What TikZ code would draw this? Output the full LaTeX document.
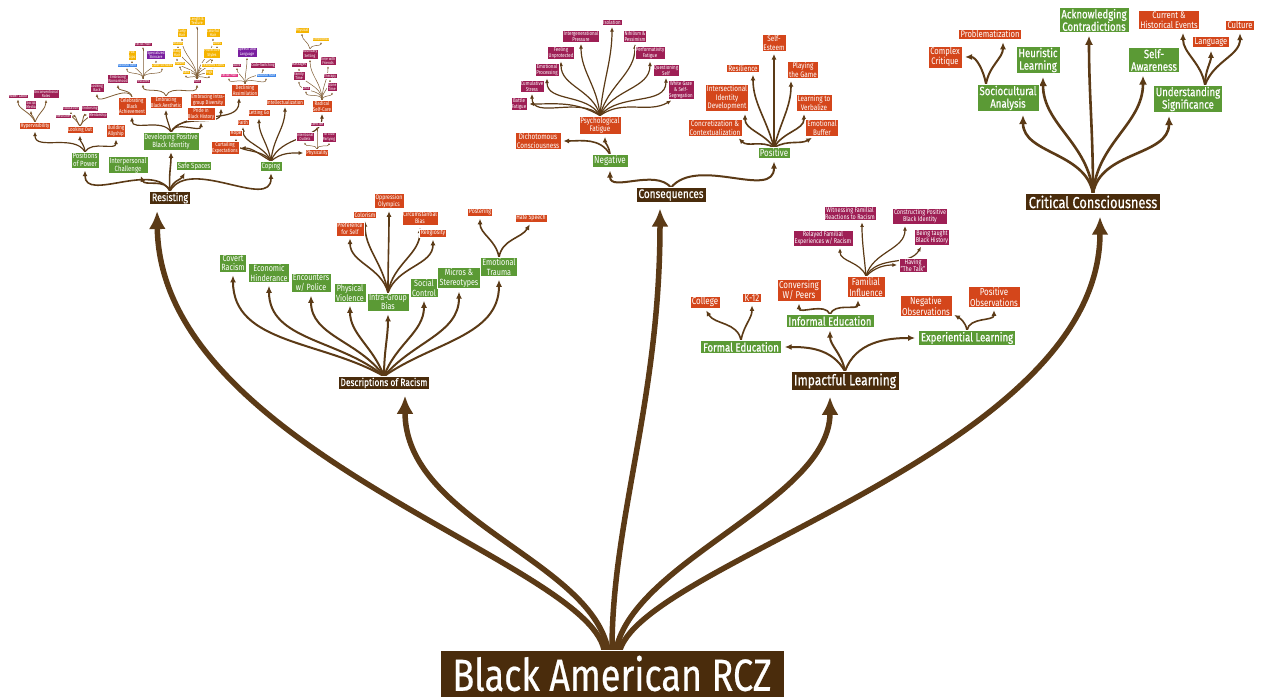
\documentclass[tikz,border=0pt]{standalone}
\usepackage{fontspec}
\setmainfont{Fira Sans}[FakeStretch=0.8]
\newfontfamily\heavier{Fira Sans}[FakeStretch=0.8, FakeBold=0.5]
\usetikzlibrary{arrows.meta}
\pgfdeclarelayer{paper}
\pgfdeclarelayer{links}
\pgfsetlayers{paper,links,main}

\definecolor{cBrown}{HTML}{4A2C0C}
\definecolor{cLine}{HTML}{5B3A16}
\definecolor{cLineLt}{HTML}{7F5C33}
\definecolor{cGreen}{HTML}{5B9A35}
\definecolor{cOrange}{HTML}{D4461B}
\definecolor{cMaroon}{HTML}{9E1F55}
\definecolor{cYellow}{HTML}{F5B400}
\definecolor{cPurple}{HTML}{7A1FA0}
\definecolor{cBlue}{HTML}{3F86E8}
\definecolor{cPink}{HTML}{E03584}

% one curved connector: style, start, out angle, in angle, end
\newcommand\lnk[5]{\draw[#1] (#2) to[out=#3,in=#4] (#5);}

\tikzset{
  bx/.style={rectangle, align=center, text=white, draw=white},
  brn/.style={bx, fill=cBrown},
  grn/.style={bx, fill=cGreen},
  org/.style={bx, fill=cOrange},
  mar/.style={bx, fill=cMaroon},
  yel/.style={bx, fill=cYellow},
  pur/.style={bx, fill=cPurple},
  blu/.style={bx, fill=cBlue},
  pnk/.style={bx, fill=cPink},
  s46/.style={font=\heavier\fontsize{45}{47}\selectfont, inner sep=0pt, line width=0.8pt},
  s16/.style={font=\heavier\fontsize{16}{17}\selectfont, inner xsep=3pt, inner ysep=2pt, line width=0.7pt},
  s15/.style={font=\heavier\fontsize{15}{16}\selectfont, inner xsep=3pt, inner ysep=2pt, line width=0.7pt},
  s125/.style={font=\heavier\fontsize{12.5}{13}\selectfont, inner xsep=2.5pt, inner ysep=1.5pt, line width=0.6pt},
  s12/.style={font=\heavier\fontsize{12}{12.5}\selectfont, inner xsep=2.5pt, inner ysep=1.5pt, line width=0.6pt},
  s11/.style={font=\heavier\fontsize{11}{11.5}\selectfont, inner xsep=2.2pt, inner ysep=1.3pt, line width=0.6pt},
  s105/.style={font=\heavier\fontsize{10.5}{11}\selectfont, inner xsep=2.2pt, inner ysep=1.3pt, line width=0.5pt},
  s10/.style={font=\fontsize{10}{10.5}\selectfont, inner xsep=2pt, inner ysep=1.3pt, line width=0.5pt},
  s95/.style={font=\fontsize{9.5}{10}\selectfont, inner xsep=2pt, inner ysep=1.3pt, line width=0.5pt},
  s9/.style={font=\fontsize{9}{9.5}\selectfont, inner xsep=2pt, inner ysep=1.2pt, line width=0.5pt},
  s8/.style={font=\fontsize{8}{8.5}\selectfont, inner xsep=1.6pt, inner ysep=1pt, line width=0.5pt},
  s75/.style={font=\fontsize{7.5}{8}\selectfont, inner xsep=1.5pt, inner ysep=1pt, line width=0.4pt},
  s68/.style={font=\fontsize{6.8}{7.2}\selectfont, inner xsep=1.5pt, inner ysep=1pt, line width=0.4pt},
  s65/.style={font=\fontsize{6.5}{7}\selectfont, inner xsep=1.3pt, inner ysep=0.9pt, line width=0.4pt},
  s55/.style={font=\fontsize{5.5}{5.8}\selectfont, inner xsep=1.1pt, inner ysep=0.8pt, line width=0.35pt},
  s4/.style={font=\fontsize{4.2}{4.5}\selectfont, inner xsep=0.8pt, inner ysep=0.6pt, line width=0.25pt},
  lk/.style={draw=cLine, line cap=round},
  w6/.style={lk, line width=5.5pt, -{Latex[length=18pt,width=17pt]}, shorten >=6pt},
  w28/.style={lk, line width=2.6pt, -{Latex[length=9pt,width=8pt]}, shorten >=3pt},
  w2/.style={lk, line width=2pt, -{Latex[length=7pt,width=6pt]}, shorten >=3pt},
  w16/.style={lk, line width=1.6pt, -{Latex[length=5.5pt,width=5pt]}, shorten >=2.5pt},
  w12/.style={lk, line width=1.2pt, -{Latex[length=4.5pt,width=4pt]}, shorten >=2pt},
  w08/.style={lk, draw=cLineLt, line width=0.8pt, -{Latex[length=3pt,width=2.6pt]}, shorten >=1.2pt},
  w05/.style={lk, draw=cLineLt, line width=0.5pt, -{Latex[length=2pt,width=1.8pt]}, shorten >=0.8pt},
}

\begin{document}
\begin{tikzpicture}[x=1pt,y=-1pt]
\begin{pgfonlayer}{paper}
\fill[white] (0,0) rectangle (1261,700);
\end{pgfonlayer}
\useasboundingbox (0,0) rectangle (1261,700);

% ---------- root ----------
\node[brn, s46, minimum width=344pt, minimum height=47pt] (R) at (612,673.5) {Black American RCZ};

% ---------- main branches ----------
\node[brn, s11]  (Res)  at (170,198) {Resisting};
\node[brn, s105] (DoR)  at (384,383) {Descriptions of Racism};
\node[brn, s125] (Cons) at (671,195) {Consequences};
\node[brn, s15]  (IL)   at (845,381) {Impactful Learning};
\node[brn, s16]  (CC)   at (1093,202) {Critical Consciousness};

% ---------- Resisting ----------
\node[grn, s75] (PoP)  at (85,160)  {Positions\\of Power};
\node[grn, s75] (IC)   at (128,165) {Interpersonal\\Challenge};
\node[grn, s75] (DPBI) at (171,141) {Developing Positive\\Black Identity};
\node[grn, s75] (SS)   at (194,166) {Safe Spaces};
\node[grn, s75] (Cop)  at (271,166) {Coping};

\node[org, s55] (Hyp)  at (35,126)  {Hypervisibility};
\node[org, s55] (LO)   at (80,130)  {Looking Out};
\node[org, s55] (BA)   at (116,131) {Building\\Allyship};
\node[org, s55] (CBA)  at (132,106) {Celebrating\\Black\\Achievement};
\node[org, s55] (EBA)  at (166,102) {Embracing\\Black Aesthetic};
\node[org, s55] (EID)  at (208,100) {Embracing Intra-\\group Diversity};
\node[org, s55] (PBH)  at (201,114) {Pride in\\Black History};
\node[org, s55] (DA)   at (245,90)  {Declining\\Assimilation};
\node[org, s55] (CE)   at (225,148) {Curtailing\\Expectations};
\node[org, s55] (Hope) at (236,133) {Hope};
\node[org, s55] (Fai)  at (243,122) {Faith};
\node[org, s55] (LG)   at (259,113) {Letting Go};
\node[org, s55] (Intl) at (285,102) {Intellectualization};
\node[org, s55] (RSC)  at (322,106) {Radical\\Self-Care};
\node[org, s55] (Phy)  at (317,153) {Physicality};

\node[mar, s4] (h1) at (18,96)  {Power Labor};
\node[mar, s4] (h2) at (31,105) {Social\\Media};
\node[mar, s4] (h3) at (46,94)  {Unconventional\\Roles};
\node[mar, s4] (l1) at (71,108) {Education};
\node[mar, s4] (l2) at (90,108) {Endorsing};
\node[mar, s4] (l3) at (63,116) {Medicine};
\node[mar, s4] (l4) at (98,115) {Mentorship};
\node[mar, s4] (c1) at (97,88)  {Looking\\Back};
\node[mar, s4] (c2) at (118,79) {Embracing\\Womanhood};
\node[mar, s4] (Fea) at (143,81) {Features};
\node[mar, s4] (Hai) at (197,81) {Hair};

\node[blu, s4] (f1) at (127,65) {Natural Skin};
\node[yel, s4] (f2) at (132,55) {Full\\Lips};
\node[mar, s4] (f3) at (143,44) {Facial Hair};
\node[pur, s4] (f4) at (156,55) {Specialized\\Skincare};
\node[yel, s4] (f5) at (162,65) {Colorful Nails};

\node[yel, s4] (a1)  at (197,21) {Length \&\\Texture};
\node[yel, s4] (a2)  at (182,33) {Curly\\Hair};
\node[yel, s4] (a3)  at (213,33) {Colorful\\Hair};
\node[yel, s4] (a4)  at (178,43) {Braids};
\node[yel, s4] (a5)  at (217,43) {Afros};
\node[yel, s4] (a6)  at (177,53) {Baby\\Hair};
\node[yel, s4] (a7)  at (212,53) {Protective\\Styles};
\node[yel, s4] (a8)  at (180,63) {Waves};
\node[yel, s4] (a9)  at (213,65) {Textured Curls};
\node[yel, s4] (a10) at (186,72) {Bald};
\node[yel, s4] (a11) at (209,72) {Wigs};

\node[pur, s4] (d1) at (247,52) {Speech and\\Language};
\node[mar, s4] (d2) at (237,65) {AAVE};
\node[mar, s4] (d3) at (263,65) {Code-Switching};
\node[pnk, s4] (d4) at (229,75) {Facial Hair};
\node[blu, s4] (d5) at (266,75) {Natural Hair};

\node[mar, s4] (r1) at (310,54) {Boundary\\Setting};
\node[mar, s4] (r2) at (299,65) {Massages};
\node[mar, s4] (r3) at (328,61) {Time with\\Friends};
\node[mar, s4] (r4) at (299,76) {Family\\Time};
\node[mar, s4] (r5) at (330,76) {Therapy};
\node[mar, s4] (r6) at (306,88) {Lists};
\node[mar, s4] (r7) at (332,87) {Alone\\Time};
\node[yel, s4] (b1) at (302,30) {Physical};
\node[yel, s4] (b2) at (321,39) {Emotional};
\node[mar, s4] (p1) at (317,124) {Exercise};
\node[mar, s4] (p2) at (305,137) {Intentional\\Outlets};
\node[mar, s4] (p3) at (329,137) {To Club\\Partying};

% ---------- Descriptions of Racism ----------
\node[grn, s9] (CR)  at (233,263) {Covert\\Racism};
\node[grn, s9] (EH)  at (269,273) {Economic\\Hinderance};
\node[grn, s9] (EP)  at (311,283) {Encounters\\w/ Police};
\node[grn, s9] (PV)  at (350,293) {Physical\\Violence};
\node[grn, s9] (IGB) at (388,302) {Intra-Group\\Bias};
\node[grn, s9] (SC)  at (424,288) {Social\\Control};
\node[grn, s9] (MS)  at (459,278) {Micros \&\\Stereotypes};
\node[grn, s9] (ET)  at (499,267) {Emotional\\Trauma};
\node[org, s65] (PfS) at (350,229) {Preference\\for Self};
\node[org, s65] (Col) at (365,215) {Colorism};
\node[org, s65] (OO)  at (389,201) {Oppression\\Olympics};
\node[org, s65] (CB)  at (420,218) {Circumstantial\\Bias};
\node[org, s65] (Rel) at (433,233) {Religiosity};
\node[org, s65] (Pst) at (480,212) {Postering};
\node[org, s65] (HS)  at (531,218) {Hate Speech};

% ---------- Consequences ----------
\node[grn, s10] (Neg) at (610,161) {Negative};
\node[grn, s10] (Pos) at (774,153) {Positive};
\node[org, s8] (PF)   at (600,125) {Psychological\\Fatigue};
\node[org, s8] (Dich) at (538,141) {Dichotomous\\Consciousness};
\node[mar, s55] (q1)  at (519,104) {Battle\\Fatigue};
\node[mar, s55] (q2)  at (532,86)  {Cumulative\\Stress};
\node[mar, s55] (q3)  at (547,70)  {Emotional\\Processing};
\node[mar, s55] (q4)  at (561,53)  {Feeling\\Unprotected};
\node[mar, s55] (q5)  at (581,36)  {Intergenerational\\Pressure};
\node[mar, s55] (q6)  at (612,22)  {Isolation};
\node[mar, s55] (q7)  at (635,36)  {Nihilism \&\\Pessimism};
\node[mar, s55] (q8)  at (650,53)  {Performativity\\Fatigue};
\node[mar, s55] (q9)  at (666,70)  {Questioning\\Self};
\node[mar, s55] (q10) at (681,90)  {White Gaze\\\& Self-\\Segregation};
\node[org, s8] (Conc) at (715,128) {Concretization \&\\Contextualization};
\node[org, s8] (IID)  at (727,98)  {Intersectional\\Identity\\Development};
\node[org, s8] (Resl) at (743,68)  {Resilience};
\node[org, s8] (SE)   at (774,43)  {Self-\\Esteem};
\node[org, s8] (PG)   at (803,70)  {Playing\\the Game};
\node[org, s8] (LV)   at (814,103) {Learning to\\Verbalize};
\node[org, s8] (EB)   at (822,128) {Emotional\\Buffer};

% ---------- Impactful Learning ----------
\node[grn, s12] (FE) at (741,347) {Formal Education};
\node[grn, s12] (IE) at (830,321) {Informal Education};
\node[grn, s12] (EL) at (967,338) {Experiential Learning};
\node[org, s10] (Clg) at (705,302) {College};
\node[org, s10] (K12) at (752,298) {K-12};
\node[org, s10] (CWP) at (799,290) {Conversing\\W/ Peers};
\node[org, s10] (FI)  at (866,287) {Familial\\Influence};
\node[org, s10] (NO)  at (926,306) {Negative\\Observations};
\node[org, s10] (PO)  at (994,297) {Positive\\Observations};
\node[mar, s68] (Rly) at (823,238) {Relayed Familial\\Experiences w/ Racism};
\node[mar, s68] (Wit) at (850,213) {Witnessing Familial\\Reactions to Racism};
\node[mar, s68] (CPB) at (920,216) {Constructing Positive\\Black Identity};
\node[mar, s68] (BTB) at (932,237) {Being taught\\Black History};
\node[mar, s68] (Hav) at (913,265) {Having\\"The Talk"};

% ---------- Critical Consciousness ----------
\node[grn, s12] (SA)  at (1008,98)  {Sociocultural\\Analysis};
\node[grn, s12] (HL)  at (1038,60)  {Heuristic\\Learning};
\node[grn, s12] (AC)  at (1094,20)  {Acknowledging\\Contradictions};
\node[grn, s12] (SAw) at (1154,60)  {Self-\\Awareness};
\node[grn, s12] (US)  at (1188,99)  {Understanding\\Significance};
\node[org, s95] (CCr) at (945,57)   {Complex\\Critique};
\node[org, s95] (Prb) at (990,34)   {Problematization};
\node[org, s95] (CHE) at (1169,20)  {Current \&\\Historical Events};
\node[org, s95] (Lng) at (1211,42)  {Language};
\node[org, s95] (Cul) at (1240,25)  {Culture};

% ================= connectors =================
\begin{pgfonlayer}{links}
% trunks from the root
\draw[w6] ([xshift=-8pt]R.north) .. controls (585,560) and (160,450) .. ([xshift=-13pt]Res.south);
\draw[w6] ([xshift=-4pt]R.north) .. controls (590,560) and (405,520) .. ([xshift=21pt]DoR.south);
\draw[w6] (R.north) .. controls (612,520) and (660,400) .. ([xshift=-11pt]Cons.south);
\draw[w6] ([xshift=4pt]R.north) .. controls (635,560) and (830,500) .. ([xshift=-15pt]IL.south);
\draw[w6] ([xshift=8pt]R.north) .. controls (650,560) and (1100,450) .. ([xshift=7pt]CC.south);

% Resisting
\lnk{w16}{Res.north}{120}{-90}{PoP.south}
\lnk{w16}{Res.north}{110}{-70}{[xshift=12pt]IC.south}
\lnk{w16}{Res.north}{95}{-90}{DPBI.south}
\lnk{w16}{Res.north}{80}{-120}{[xshift=-8pt]SS.south}
\lnk{w16}{Res.north}{60}{-90}{Cop.south}
\lnk{w12}{PoP.north}{120}{-90}{Hyp.south}
\lnk{w12}{PoP.north}{95}{-90}{LO.south}
\lnk{w12}{PoP.north}{60}{-90}{BA.south}
\lnk{w08}{Hyp.north}{110}{-90}{h1.south}
\lnk{w08}{Hyp.north}{95}{-90}{h2.south}
\lnk{w08}{Hyp.north}{70}{-90}{h3.south}
\lnk{w08}{LO.north}{110}{-90}{l1.south}
\lnk{w08}{LO.north}{70}{-90}{l2.south}
\lnk{w08}{LO.north}{130}{0}{l3.east}
\lnk{w08}{LO.north}{50}{180}{l4.west}
\lnk{w12}{DPBI.north}{120}{-90}{CBA.south}
\lnk{w12}{DPBI.north}{105}{-90}{EBA.south}
\lnk{w12}{DPBI.north}{75}{-90}{PBH.south}
\lnk{w12}{DPBI.north}{65}{-90}{[xshift=13pt]EID.south}
\lnk{w12}{DPBI.north}{55}{-90}{[xshift=-6pt]DA.south}
\lnk{w08}{CBA.north}{110}{-90}{c1.south}
\lnk{w08}{CBA.north}{95}{-90}{c2.south}
\lnk{w08}{EBA.north}{110}{-90}{Fea.south}
\lnk{w08}{EBA.north}{70}{-90}{Hai.south}
\foreach \n in {f1,f2,f3,f4,f5} {\lnk{w05}{Fea.north}{90}{-90}{\n.south}}
\foreach \n in {a1,a2,a3,a4,a5,a6,a7,a8,a9,a10,a11} {\lnk{w05}{Hai.north}{90}{-90}{\n.south}}
\foreach \n in {d1,d2,d3,d4,d5} {\lnk{w05}{DA.north}{90}{-90}{\n.south}}
\lnk{w12}{Cop.north}{150}{0}{CE.east}
\lnk{w12}{Cop.north}{125}{-90}{Hope.south}
\lnk{w12}{Cop.north}{115}{-90}{Fai.south}
\lnk{w12}{Cop.north}{100}{-90}{LG.south}
\lnk{w12}{Cop.north}{85}{-90}{Intl.south}
\lnk{w12}{Cop.north}{70}{-90}{RSC.south}
\lnk{w12}{Cop.north}{40}{180}{Phy.west}
\foreach \n in {r1,r2,r3,r4,r5,r6,r7} {\lnk{w05}{RSC.north}{90}{-90}{\n.south}}
\lnk{w05}{r1.north}{100}{-90}{b1.south}
\lnk{w05}{r1.north}{80}{-90}{b2.south}
\foreach \n in {p1,p2,p3} {\lnk{w05}{Phy.north}{90}{-90}{\n.south}}

% Descriptions of Racism
\lnk{w2}{DoR.north}{150}{-90}{CR.south}
\lnk{w2}{DoR.north}{140}{-90}{EH.south}
\lnk{w2}{DoR.north}{125}{-90}{EP.south}
\lnk{w2}{DoR.north}{110}{-90}{PV.south}
\lnk{w2}{DoR.north}{90}{-90}{IGB.south}
\lnk{w2}{DoR.north}{70}{-90}{SC.south}
\lnk{w2}{DoR.north}{50}{-90}{MS.south}
\lnk{w2}{DoR.north}{35}{-90}{ET.south}
\lnk{w16}{IGB.north}{105}{-90}{PfS.south}
\lnk{w16}{IGB.north}{100}{-90}{Col.south}
\lnk{w16}{IGB.north}{90}{-90}{OO.south}
\lnk{w16}{IGB.north}{80}{-90}{CB.south}
\lnk{w16}{IGB.north}{70}{-90}{Rel.south}
\lnk{w16}{ET.north}{100}{-90}{Pst.south}
\lnk{w16}{ET.north}{80}{-120}{HS.south}

% Consequences
\lnk{w2}{Cons.north}{130}{-90}{Neg.south}
\lnk{w2}{Cons.north}{50}{-90}{Pos.south}
\lnk{w16}{Neg.north}{95}{-90}{[xshift=5pt]PF.south}
\lnk{w16}{Neg.north}{120}{0}{Dich.east}
\lnk{w12}{PF.north}{150}{0}{q1.east}
\lnk{w12}{PF.north}{135}{-90}{q2.south}
\lnk{w12}{PF.north}{120}{-90}{q3.south}
\lnk{w12}{PF.north}{105}{-90}{q4.south}
\lnk{w12}{PF.north}{95}{-90}{q5.south}
\lnk{w12}{PF.north}{85}{-90}{q6.south}
\lnk{w12}{PF.north}{75}{-90}{q7.south}
\lnk{w12}{PF.north}{65}{-90}{q8.south}
\lnk{w12}{PF.north}{50}{-90}{q9.south}
\lnk{w12}{PF.north}{35}{-150}{[xshift=-8pt]q10.south}
\lnk{w16}{Pos.north}{150}{-45}{[xshift=22pt]Conc.south}
\lnk{w16}{Pos.north}{125}{-90}{[xshift=18pt]IID.south}
\lnk{w16}{Pos.north}{105}{-90}{[xshift=10pt]Resl.south}
\lnk{w16}{Pos.north}{90}{-90}{SE.south}
\lnk{w16}{Pos.north}{75}{-90}{[xshift=-12pt]PG.south}
\lnk{w16}{Pos.north}{60}{-90}{[xshift=-10pt]LV.south}
\lnk{w16}{Pos.north}{30}{-150}{[xshift=-8pt]EB.south}

% Impactful Learning
\lnk{w2}{IL.north}{120}{0}{FE.east}
\lnk{w2}{IL.north}{100}{-90}{IE.south}
\lnk{w2}{IL.north}{70}{180}{EL.west}
\lnk{w16}{FE.north}{100}{-60}{Clg.south}
\lnk{w16}{FE.north}{80}{-90}{K12.south}
\lnk{w16}{IE.north}{110}{-90}{CWP.south}
\lnk{w16}{IE.north}{70}{-90}{[xshift=-8pt]FI.south}
\lnk{w12}{FI.north}{110}{-90}{[xshift=17pt]Rly.south}
\lnk{w12}{FI.north}{95}{-90}{[xshift=12pt]Wit.south}
\lnk{w12}{FI.north}{75}{-90}{[xshift=-15pt]CPB.south}
\lnk{w12}{FI.north}{60}{-120}{[xshift=-10pt]BTB.south}
\lnk{w12}{FI.north}{45}{180}{Hav.west}
\lnk{w16}{EL.north}{100}{-30}{[yshift=3pt]NO.south east}
\lnk{w16}{EL.north}{80}{-90}{PO.south}

% Critical Consciousness
\lnk{w28}{CC.north}{100}{-90}{[xshift=15pt]SA.south}
\lnk{w28}{CC.north}{95}{-90}{[xshift=5pt]HL.south}
\lnk{w28}{CC.north}{90}{-90}{[xshift=-5pt]AC.south}
\lnk{w28}{CC.north}{85}{-90}{[xshift=-11pt]SAw.south}
\lnk{w28}{CC.north}{80}{-90}{[xshift=-19pt]US.south}
\lnk{w2}{[xshift=-22pt]SA.north}{100}{0}{CCr.east}
\lnk{w2}{[xshift=-22pt]SA.north}{80}{-90}{[xshift=13pt]Prb.south}
\lnk{w2}{[xshift=17pt]US.north}{100}{-90}{[xshift=14pt]CHE.south}
\lnk{w2}{[xshift=17pt]US.north}{90}{-90}{Lng.south}
\lnk{w2}{[xshift=17pt]US.north}{70}{-90}{Cul.south}
\end{pgfonlayer}
\end{tikzpicture}
\end{document}
